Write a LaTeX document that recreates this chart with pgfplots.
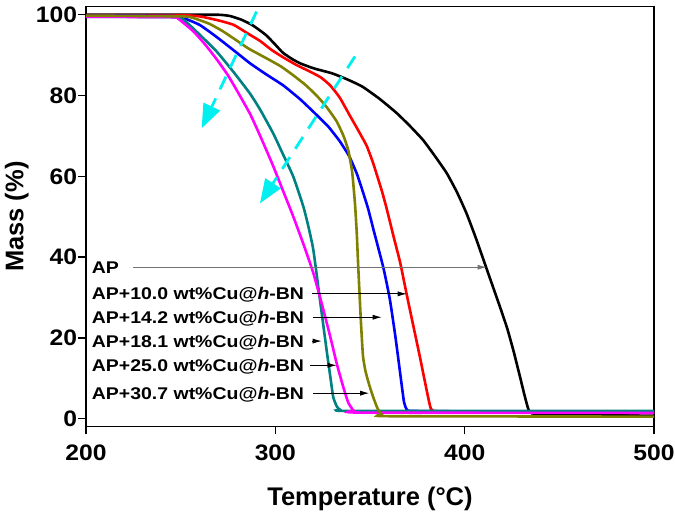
\documentclass[border=0pt]{standalone}
\usepackage{fontspec}
\setmainfont{Liberation Sans}
\newfontfamily\legfont{Liberation Sans}[FakeStretch=1.15]
\newfontfamily\tickfont{Liberation Sans}[FakeStretch=1.1]
\usepackage{pgfplots}
\pgfplotsset{compat=1.18}
\usetikzlibrary{arrows.meta}
\definecolor{olivec}{RGB}{128,128,0}
\definecolor{tealc}{RGB}{0,128,128}
\definecolor{cyanc}{RGB}{0,240,240}
\definecolor{magc}{RGB}{255,0,255}
\begin{document}
\begin{tikzpicture}
\useasboundingbox (-86bp,-90.3bp) rectangle (589bp,426.7bp);
\begin{axis}[
 at={(0,0)}, anchor=south west,
 scale only axis, width=568bp, height=420bp,
 xmin=200, xmax=500, ymin=-2, ymax=102,
 xtick={200,300,400,500}, ytick={0,20,...,100},
 tick align=outside, xtick pos=left, ytick pos=left,
 major tick length=7.7bp,
 axis line style={line width=1.5bp},
 every tick/.style={line width=1.3bp, black},
 tick label style={font=\tickfont\fontsize{22.5}{22.5}\selectfont\bfseries},
 /pgf/number format/assume math mode=true,
 yticklabel style={inner sep=1bp},
 xticklabel style={inner sep=1bp, yshift=-9bp},
 xlabel={Temperature (°C)}, ylabel={Mass (\%)},
 label style={font=\fontsize{25.6}{25.6}\selectfont\bfseries},
 xlabel style={at={([yshift=-78.3bp]axis description cs:0.5,0)}, anchor=base},
 ylabel style={at={([xshift=-62.7bp]axis description cs:0,0.5)}, anchor=base},
 every axis plot/.append style={line width=2.6bp, smooth, tension=0.3},
]
% AP
\addplot[black] coordinates {
(200,100) (250,100) (270,100) (276,99.7) (282,98.8) (288,97.4) (295,95) (300,92.6)
(304,90.6) (309,89) (313,88) (318,87.1) (322,86.5) (330,85.5) (338,84) (346,82.2)
(355,79.2) (364,75.7) (371,72.5) (378,69) (384,65.2) (390.5,60.8) (396,56) (401,50.8)
(406,44.6) (411.6,37.1) (418.7,27.6) (422.5,22.3) (426,16.4) (429,10.8) (431.5,6)
(433.6,2.4) (435.5,1.3) (450,1.1) (500,0.7)};
% 10.0
\addplot[red] coordinates {
(200,99.9) (250,99.9) (260,99.6) (270,98.6) (278,97.5) (285,95.5) (292,93.5) (298,91.3)
(304,89.5) (311,87.6) (318,86) (324,84.5) (329,82.5) (334,79.5) (339.4,75) (344,71.2)
(348.2,67.6) (351.5,63.5) (354,59.8) (356.5,56) (358.8,52) (362.5,45) (366,38.5) (369.4,30.7)
(373,22.7) (376.4,15.2) (379.5,8) (381.7,3.2) (383.5,1.9) (400,1.7) (500,1.5)};
% 14.2
\addplot[blue] coordinates {
(200,99.8) (245,99.7) (251.4,99.2) (260,97.5) (269,94.5) (278,91.2) (286.6,88) (295,85.3)
(304.2,82.5) (313.3,79) (321.8,75.2) (328,72.3) (334,68.7) (339,65) (343,60.7) (346,56.5)
(349,52) (352,46.5) (357,37.5) (360.5,29.5) (363.5,20) (366,11) (368,4) (369.5,2.2)
(372,1.9) (400,1.8) (500,1.8)};
% 18.1
\addplot[tealc] coordinates {
(200,99.5) (245,99.4) (251.4,98.8) (260.2,95) (269,90.9) (277.8,85.9) (286.6,80.5) (292,76.5)
(298.9,70.6) (304,65.5) (309.5,59.9) (314.8,52.5) (317.5,47.5) (320.1,41.7) (323.6,29.3)
(327.1,16.9) (329,10.5) (330.6,5.3) (332.5,3) (334.2,2.2) (340,1.9) (500,1.9)};
% 25.0
\addplot[magc] coordinates {
(200,99.5) (245,99.4) (248.5,99.1) (256.7,95.9) (263,92.6) (269,89) (275,85) (280,81)
(286.6,75.5) (292,70) (298.9,62.5) (304,56.5) (309.5,50) (315,43) (320.1,36)
(324.5,28.5) (328.9,20.5) (332.5,13.5) (335.9,7.8) (338.5,4) (341.3,2) (345,1.5) (500,1.4)};
% 30.7
\addplot[olivec] coordinates {
(200,99.8) (250,99.6) (256,99.3) (265,97.8) (272,96) (277.8,94.2) (286,91.6) (295.4,89.2)
(303,87.2) (309.5,85) (316,82.6) (321.8,80) (327,77.2) (332.4,73.6) (336,70) (338.5,66.5)
(340.6,61) (342.1,53) (343,46) (343.8,37.5) (345.2,24) (346.3,15.5) (347.6,11.8)
(349.5,8.5) (351.7,5.3) (354,2.5) (356.2,1.0) (360,0.6) (500,0.5)};
% cyan arrows
\draw[cyanc, line width=2.8bp, dash pattern=on 14bp off 10bp, -{Triangle[length=24bp,width=18bp]}]
  (axis cs:290.1,100.8) -- (axis cs:261.1,71.9);
\draw[cyanc, line width=2.8bp, dash pattern=on 14bp off 10bp, -{Triangle[length=24bp,width=18bp]}]
  (axis cs:342.1,89.7) -- (axis cs:291.9,53.3);
% labels
\tikzset{lab/.style={anchor=base west, inner sep=0pt, font=\legfont\fontsize{17}{17}\selectfont\bfseries},
  arr/.style={-{Latex[length=9bp,width=5bp]}, line width=0.8bp}}
\node[lab] at (axis cs:203,36.0) {AP};
\node[lab] at (axis cs:203,29.4) {AP+10.0 wt\%Cu@\textit{h}-BN};
\node[lab] at (axis cs:203,23.6) {AP+14.2 wt\%Cu@\textit{h}-BN};
\node[lab] at (axis cs:203,17.7) {AP+18.1 wt\%Cu@\textit{h}-BN};
\node[lab] at (axis cs:203,11.7) {AP+25.0 wt\%Cu@\textit{h}-BN};
\node[lab] at (axis cs:203,4.8) {AP+30.7 wt\%Cu@\textit{h}-BN};
\draw[arr, black!55] (axis cs:224.8,37.5) -- (axis cs:411.6,37.5);
\draw[arr] (axis cs:319.2,30.9) -- (axis cs:369.4,30.9);
\draw[arr] (axis cs:320,25.1) -- (axis cs:356.2,25.1);
\draw[arr] (axis cs:319.2,19.2) -- (axis cs:324.5,19.2);
\draw[arr] (axis cs:318.3,13.2) -- (axis cs:332.4,13.2);
\draw[arr] (axis cs:320,6.3) -- (axis cs:349.6,6.3);
\end{axis}
\end{tikzpicture}
\end{document}
